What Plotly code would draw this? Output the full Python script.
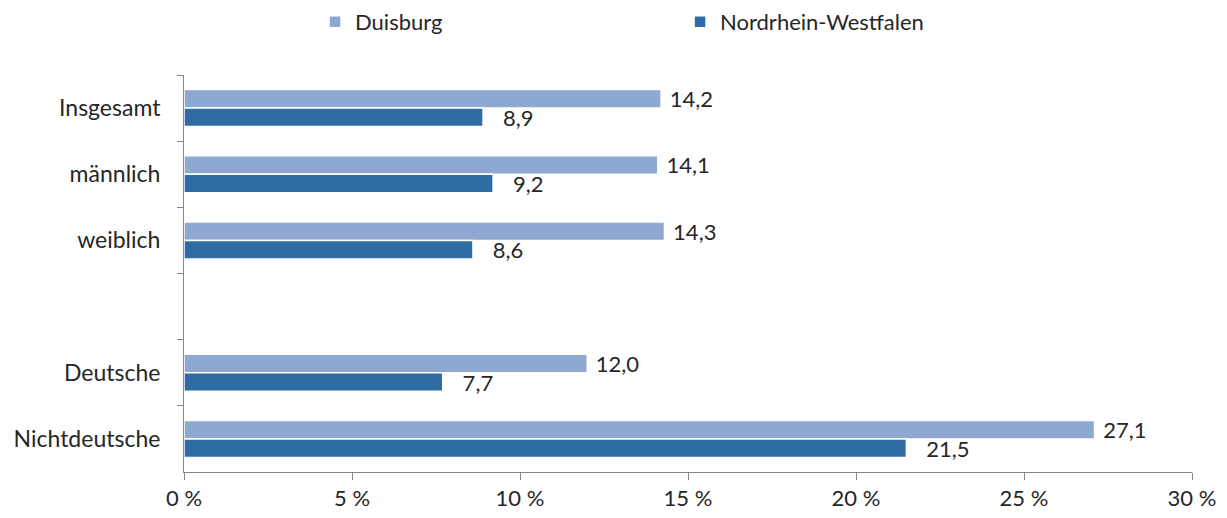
import plotly.graph_objects as go

categories = ["Insgesamt", "männlich", "weiblich", " ", "Deutsche", "Nichtdeutsche"]
duisburg = [14.2, 14.1, 14.3, None, 12.0, 27.1]
nrw = [8.9, 9.2, 8.6, None, 7.7, 21.5]
series_names = ["Duisburg", "Nordrhein-Westfalen"]
x_ticks = [0, 5, 10, 15, 20, 25, 30]
x_ticklabels = ["0 %", "5 %", "10 %", "15 %", "20 %", "25 %", "30 %"]

font_family = "Lato, 'Open Sans', sans-serif"
txt_color = "#262626"
fs = 22

fig = go.Figure()
for name, vals, col, tmpl in [(series_names[0], duisburg, "#8EA8D1", " %{x:.1f}"),
                              (series_names[1], nrw, "#2E6CA6", "   %{x:.1f}")]:
    fig.add_trace(go.Bar(
        y=categories, x=vals, name=name, orientation="h",
        marker=dict(color=col, line=dict(color="white", width=1.5)),
        texttemplate=tmpl, textposition="outside", constraintext="none",
        textfont=dict(size=fs, color=txt_color, family=font_family),
        cliponaxis=False,
    ))

fig.update_layout(
    width=1227, height=518,
    margin=dict(l=184, r=35, t=75, b=46, autoexpand=False),
    barmode="group", bargap=0.44, bargroupgap=0.0,
    separators=",.",
    plot_bgcolor="white", paper_bgcolor="white",
    font=dict(family=font_family, size=fs, color=txt_color),
    legend=dict(orientation="h", x=0.13, xanchor="left", y=0.998, yanchor="top",
                yref="container", entrywidth=320, traceorder="normal",
                itemwidth=30, font=dict(size=fs, color=txt_color)),
    xaxis=dict(range=[0, 30], tickmode="array", tickvals=x_ticks, ticktext=x_ticklabels,
               showgrid=False, automargin=False,
               zeroline=False, showline=True, linecolor="#868686", linewidth=1,
               ticks="outside", ticklen=7, tickcolor="#868686",
               tickfont=dict(size=fs, color=txt_color)),
    yaxis=dict(type="category", categoryorder="array", categoryarray=categories,
               autorange="reversed", showgrid=False, showline=True, automargin=False,
               linecolor="#868686", linewidth=1, ticks="outside", ticklen=6,
               tickcolor="#868686", tickson="boundaries",
               tickfont=dict(size=23, color=txt_color), ticklabelstandoff=18),
)
fig.write_html("out.html", config={"displayModeBar": False},
               post_script="document.body.style.margin='0';")
